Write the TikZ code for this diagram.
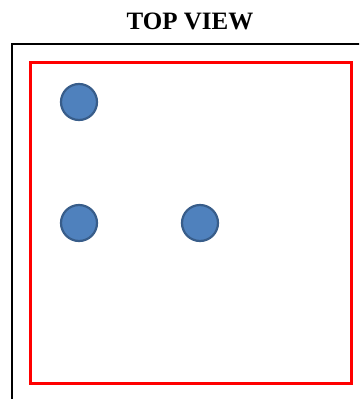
\documentclass[tikz,border=0pt]{standalone}
\usepackage{fontspec}
\setmainfont{Liberation Serif}
\definecolor{dotfill}{HTML}{4F81BD}
\definecolor{dotline}{HTML}{385D8A}
\tikzset{
  dot/.style={circle, draw=dotline, fill=dotfill, line width=2.2pt, minimum size=36pt, inner sep=0pt},
  outerbox/.style={draw=black, line width=2.6pt},
  innerbox/.style={draw=red, line width=3pt},
}
\begin{document}
\begin{tikzpicture}[x=1pt,y=-1pt]
\useasboundingbox (0,0) rectangle (359,399);
\clip (0,0) rectangle (359,399);
\fill[white] (0,0) rectangle (359,399);
\node[font=\fontsize{25}{29}\selectfont\bfseries, inner sep=0pt] (title) at (190,21.5) {TOP VIEW};
\draw[outerbox] (12,44) rectangle (375,415);
\draw[innerbox] (30,62) rectangle (351,383);
\node[dot] (d1) at (79,102) {};
\node[dot] (d2) at (79,223) {};
\node[dot] (d3) at (200,223) {};
\end{tikzpicture}
\end{document}
